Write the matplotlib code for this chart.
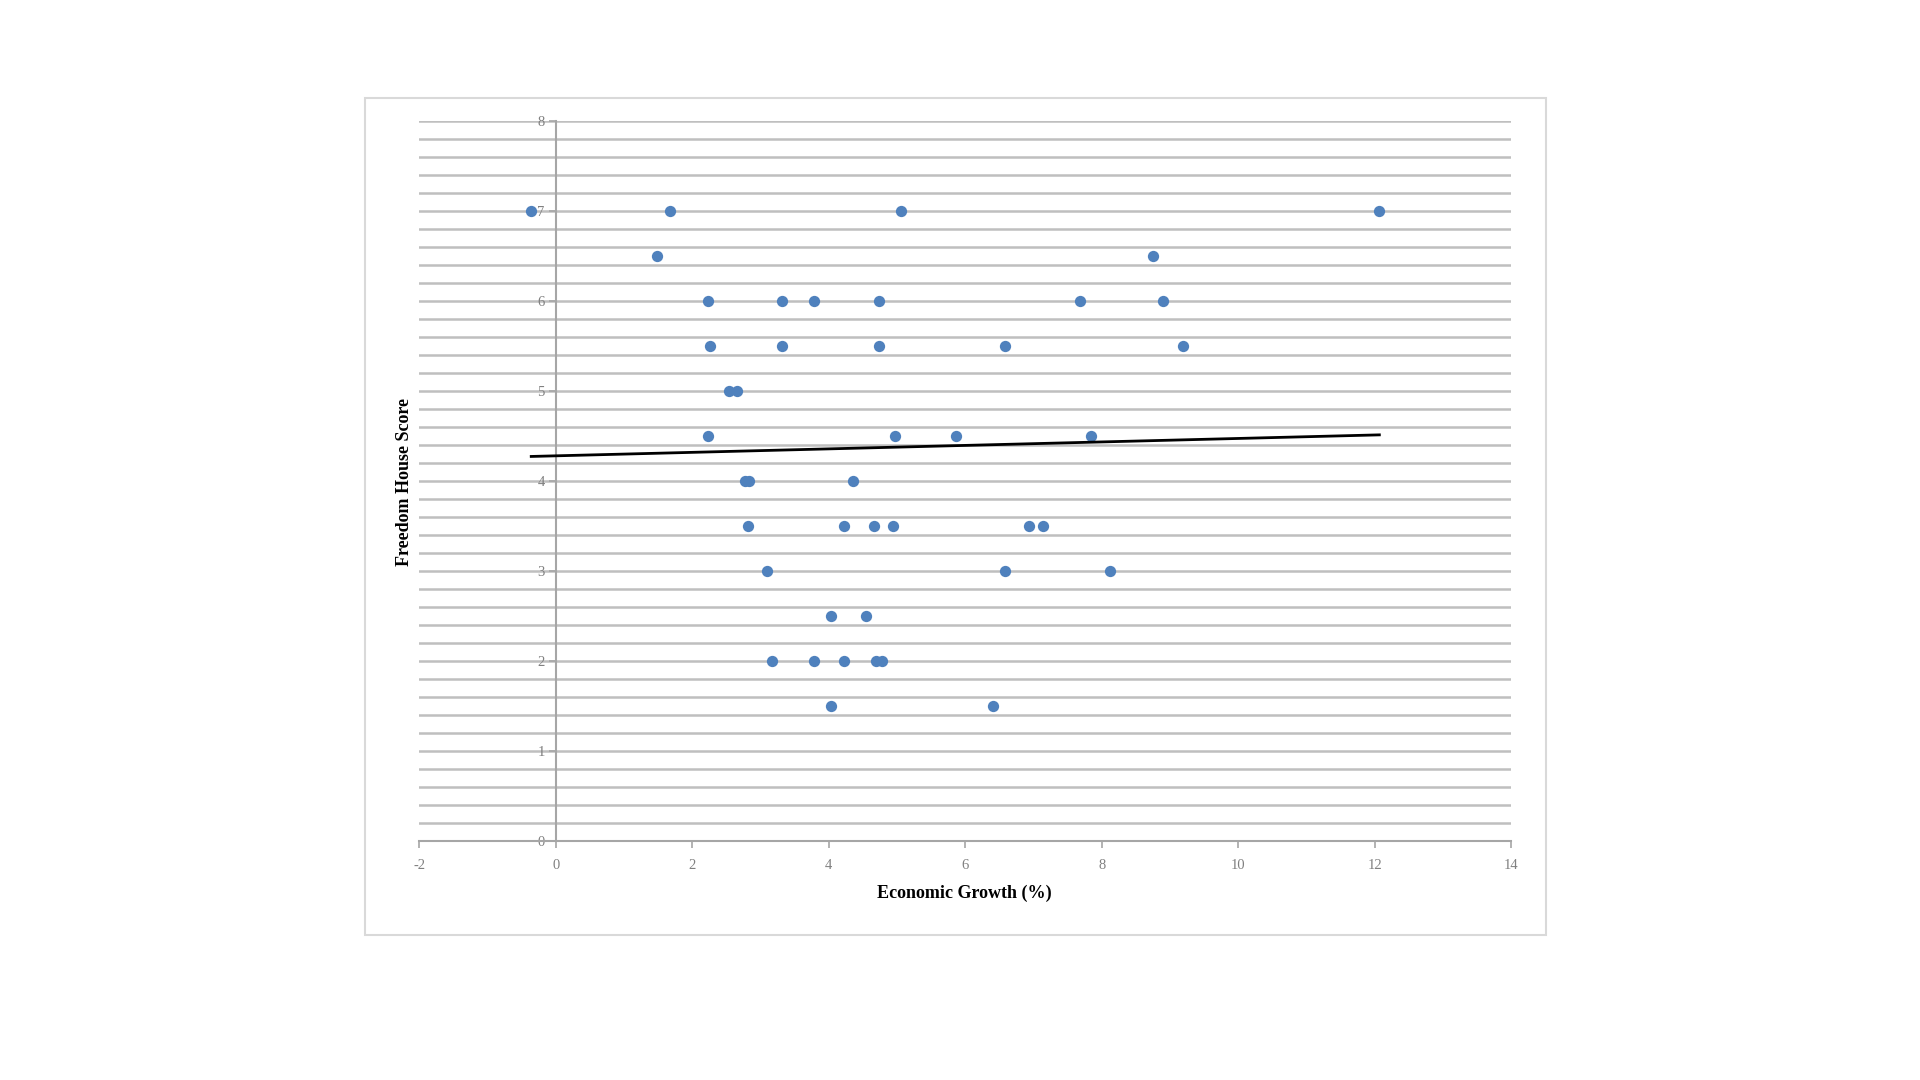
import numpy as np
import matplotlib
matplotlib.use('Agg')
import matplotlib.pyplot as plt
import matplotlib.patches as patches
from matplotlib.ticker import MultipleLocator

# Economic growth (%) and Freedom House score
growth = [-0.36, 1.67, 5.06, 12.07,
          1.48, 8.75,
          2.23, 3.32, 3.79, 4.73, 7.68, 8.90,
          2.26, 3.32, 4.73, 6.58, 9.19,
          2.54, 2.66,
          2.23, 4.97, 5.86, 7.84,
          2.77, 2.83, 4.35,
          2.82, 4.22, 4.66, 4.94, 6.93, 7.14,
          3.09, 6.58, 8.12,
          4.03, 4.55,
          3.17, 3.79, 4.22, 4.69, 4.78,
          4.03, 6.41]
score = [7, 7, 7, 7,
         6.5, 6.5,
         6, 6, 6, 6, 6, 6,
         5.5, 5.5, 5.5, 5.5, 5.5,
         5, 5,
         4.5, 4.5, 4.5, 4.5,
         4, 4, 4,
         3.5, 3.5, 3.5, 3.5, 3.5, 3.5,
         3, 3, 3,
         2.5, 2.5,
         2, 2, 2, 2, 2,
         1.5, 1.5]

x_label = 'Economic Growth (%)'
y_label = 'Freedom House Score'

plt.rcParams['font.family'] = ['Liberation Serif', 'DejaVu Serif']
plt.rcParams['axes.unicode_minus'] = False

fig = plt.figure(figsize=(19.2, 10.8), dpi=100)
ax = fig.add_axes([0.2184, 0.221, 0.5686, 0.6667])

# light frame around the chart area, like the spreadsheet chart border
frame = patches.Rectangle((0.190, 0.134), 0.615, 0.7755, transform=fig.transFigure,
                          fill=False, edgecolor='#d9d9d9', linewidth=1.5, zorder=0)
fig.patches.append(frame)

ax.set_xlim(-2, 14)
ax.set_ylim(0, 8)

# horizontal gridlines every 0.2
for yv in np.arange(0, 8.01, 0.2):
    ax.axhline(yv, color='#bfbfbf', linewidth=1.8, zorder=1)

x = np.array(growth)
y = np.array(score)
ax.scatter(x, y, s=66, color='#4f81bd', zorder=3, linewidths=0)

# linear trend line over the data range
slope, intercept = np.polyfit(x, y, 1)
xs = np.array([x.min(), x.max()])
ax.plot(xs, slope * xs + intercept, color='black', linewidth=2.0, zorder=4)

ax.spines['top'].set_visible(False)
ax.spines['right'].set_visible(False)
ax.spines['left'].set_position(('data', 0))
ax.spines['left'].set_color('#a6a6a6')
ax.spines['bottom'].set_color('#a6a6a6')
ax.spines['left'].set_linewidth(1.5)
ax.spines['bottom'].set_linewidth(1.5)

ax.xaxis.set_major_locator(MultipleLocator(2))
ax.yaxis.set_major_locator(MultipleLocator(1))
ax.tick_params(axis='both', colors='#a6a6a6', labelcolor='#808080', labelsize=10.5,
               length=5, width=1.2)
ax.tick_params(axis='x', pad=8)
ax.tick_params(axis='y', pad=3)

fig.text(0.5025, 0.173, x_label, ha='center', va='center', fontsize=13, fontweight='bold')
fig.text(0.2107, 0.554, y_label, ha='center', va='center', rotation=90,
         fontsize=13, fontweight='bold')

fig.savefig('out.png', dpi=100)
